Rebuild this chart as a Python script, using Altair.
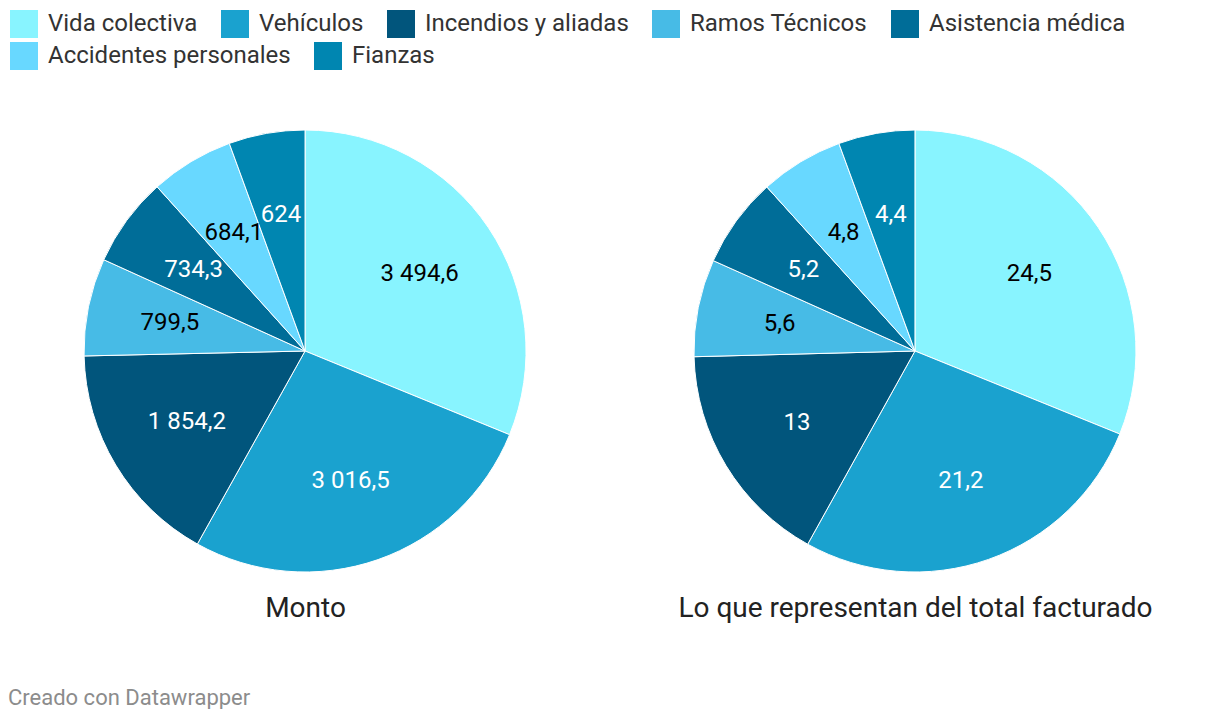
import altair as alt
import pandas as pd

categories = ["Vida colectiva", "Vehículos", "Incendios y aliadas", "Ramos Técnicos",
              "Asistencia médica", "Accidentes personales", "Fianzas"]
monto = [3494.6, 3016.5, 1854.2, 799.5, 734.3, 684.1, 624]
porcentaje = [24.5, 21.2, 13, 5.6, 5.2, 4.8, 4.4]
panels = ["Monto", "Lo que representan del total facturado"]
colors = ["#88f4ff", "#1aa2cf", "#01557c", "#47bbe6", "#006d98", "#68d8ff", "#0086b1"]
label_colors = ["#000000", "#ffffff", "#ffffff", "#000000", "#ffffff", "#000000", "#ffffff"]
ROW1 = 5  # categories on the first legend row


def fmt(v):
    if float(v).is_integer():
        s = f"{int(v):,}"
    else:
        s = f"{v:,.1f}"
    return s.replace(",", " ").replace(".", ",")


rows = []
for panel, values in zip(panels, [monto, porcentaje]):
    for i, (c, v) in enumerate(zip(categories, values)):
        rows.append({"panel": panel, "cat": c, "val": v, "idx": i,
                     "label": fmt(v), "tcol": label_colors[i]})
df = pd.DataFrame(rows)


def make_legend(y):
    return alt.Legend(
        title=None, orient="none", legendX=2, legendY=y, direction="horizontal",
        symbolType="square", symbolSize=784, symbolStrokeWidth=0, symbolOpacity=1,
        labelFontSize=24, labelFont="Roboto", labelColor="#333333",
        labelOffset=10, columnPadding=23, padding=0, labelLimit=400,
    )


base = alt.Chart(df).transform_window(
    cum="sum(val)", groupby=["panel"], sort=[alt.SortField("idx")],
    frame=[None, 0],
).transform_joinaggregate(
    total="sum(val)", groupby=["panel"]
).transform_calculate(
    end="datum.cum / datum.total",
    start="(datum.cum - datum.val) / datum.total",
    mid="(2 * datum.cum - datum.val) / (2 * datum.total)",
)

xenc = alt.X("panel:N", sort=panels, title=None,
             scale=alt.Scale(type="point", padding=0.487),
             axis=alt.Axis(domain=False, ticks=False, labelFontSize=28,
                           labelFont="Roboto", labelColor="#222222",
                           labelPadding=22, labelLimit=800, labelAngle=0))
theta_scale = alt.Scale(domain=[0, 1])

arcs_a = base.transform_filter(alt.datum.idx < ROW1).mark_arc(
    outerRadius=221, stroke="white", strokeWidth=1
).encode(
    x=xenc,
    theta=alt.Theta("start:Q", stack=None, scale=theta_scale),
    theta2="end:Q",
    color=alt.Color("cat:N", sort=categories[:ROW1],
                    scale=alt.Scale(domain=categories[:ROW1], range=colors[:ROW1]),
                    legend=make_legend(-120)),
)

arcs_b = base.transform_filter(alt.datum.idx >= ROW1).mark_arc(
    outerRadius=221, stroke="white", strokeWidth=1
).encode(
    x=xenc,
    theta=alt.Theta("start:Q", stack=None, scale=theta_scale),
    theta2="end:Q",
    color=alt.Color("cat:N", sort=categories[ROW1:],
                    scale=alt.Scale(domain=categories[ROW1:], range=colors[ROW1:]),
                    legend=make_legend(-88)),
)

texts = base.mark_text(radius=138, fontSize=24, font="Roboto").encode(
    x=xenc,
    theta=alt.Theta("mid:Q", stack=None, scale=theta_scale),
    text="label:N",
    color=alt.Color("tcol:N", scale=None),
)

chart = alt.layer(arcs_a, arcs_b, texts).resolve_scale(
    color="independent"
).properties(
    width=1204, height=442,
    background="white",
    padding={"left": 0, "top": 2, "right": 0, "bottom": 0},
    title=alt.Title("Creado con Datawrapper", orient="bottom", anchor="start",
                    fontSize=22, font="Roboto", fontWeight="normal",
                    color="#8c8c8c", offset=66),
).configure_view(stroke=None)

chart.save("out.html", embed_options={"renderer": "svg", "actions": False})
